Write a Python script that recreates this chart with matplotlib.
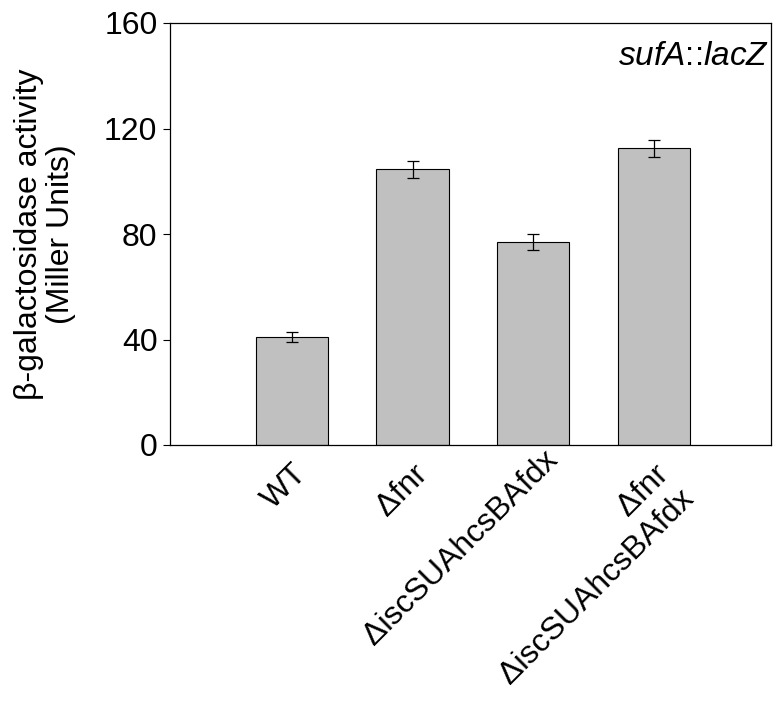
import matplotlib
matplotlib.use("Agg")
import matplotlib.pyplot as plt
import matplotlib.transforms as mtransforms
import numpy as np

categories = ["WT", "Δfnr", "ΔiscSUAhcsBAfdx", "Δfnr\nΔiscSUAhcsBAfdx"]
values = [41, 104.5, 77, 112.5]
errors = [2, 3.2, 3, 3.2]
yticks = [0, 40, 80, 120, 160]

plt.rcParams['font.family'] = ['Liberation Sans', 'DejaVu Sans']
plt.rcParams['mathtext.fontset'] = 'custom'
plt.rcParams['mathtext.rm'] = 'Liberation Sans'
plt.rcParams['mathtext.it'] = 'Liberation Sans:italic'

fig = plt.figure(figsize=(7.83, 7.07), dpi=100)
ax = fig.add_axes([170/783, 1-445/707, 601/783, 422/707])

x = np.arange(len(values))
ax.bar(x, values, width=0.6, color='#c0c0c0', edgecolor='black', linewidth=0.8, zorder=2)
ax.errorbar(x, values, yerr=errors, fmt='none', ecolor='black', elinewidth=0.9,
            capsize=4.5, capthick=0.9, zorder=3)

ax.set_xlim(-1.01, 3.97)
ax.set_ylim(0, 160)
ax.set_yticks(yticks)
ax.set_yticklabels([str(t) for t in yticks], fontsize=23)
ax.tick_params(axis='y', direction='out', length=5, width=0.8, pad=4)
ax.set_xticks(x)
labels = ax.set_xticklabels(categories, rotation=45, ha='right', va='top',
                            rotation_mode='anchor', fontsize=23, multialignment='right',
                            linespacing=1.2)
ax.tick_params(axis='x', length=0, pad=10)
# the long third label sits a little further along its diagonal in the reference
off = mtransforms.ScaledTranslation(7/72, 10/72, fig.dpi_scale_trans)
labels[2].set_transform(labels[2].get_transform() + off)
for s in ax.spines.values():
    s.set_linewidth(0.9)

ax.set_ylabel("β-galactosidase activity\n(Miller Units)", fontsize=23, labelpad=20,
              linespacing=1.1)
ax.text(0.997, 0.957, r"$\mathit{sufA}$::$\mathit{lacZ}$", transform=ax.transAxes,
        ha='right', va='top', fontsize=24)

fig.savefig("out.png", dpi=100)
